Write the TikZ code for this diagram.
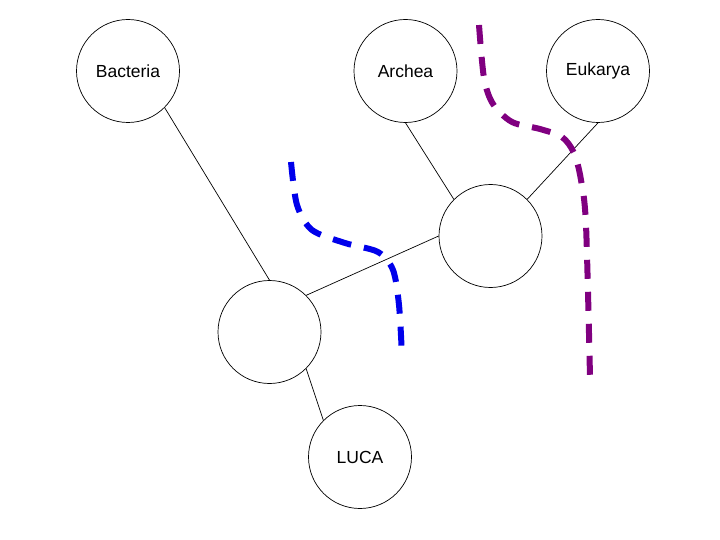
\documentclass[tikz,border=0pt]{standalone}
\usepackage{fontspec}
\setmainfont{Liberation Sans}
\definecolor{cutblue}{RGB}{0,0,235}
\definecolor{cutpurple}{RGB}{128,0,128}
\begin{document}
\begin{tikzpicture}[x=1pt,y=-1pt,
  taxon/.style={draw,circle,line width=0.7pt,minimum size=103pt,inner sep=0pt,font=\fontsize{17.5}{20}\selectfont},
  branch/.style={line width=0.7pt},
  cut/.style={line width=6pt,dash pattern=on 19pt off 13pt}]
\useasboundingbox (0,0) rectangle (720,540);
\node[taxon] (bac) at (128,71) {Bacteria};
\node[taxon] (arc) at (405.5,71) {Archea};
\node[taxon] (euk) at (598,71) {Eukarya};
\node[taxon] (ae) at (490.5,236) {};
\node[taxon] (root) at (269.5,332) {};
\node[taxon] (luca) at (360,457) {LUCA};
\draw[branch] (bac.-45) -- (root.north);
\draw[branch] (root.45) -- (ae.west);
\draw[branch] (arc.south) -- (ae.135);
\draw[branch] (euk.south) -- (ae.45);
\draw[branch] (root.-45) -- (luca.135);
\draw[cut,cutblue] plot[smooth] coordinates {(291,162) (297,205) (312,230) (345,243) (378,252) (393,270) (399,305) (402,356)};
\draw[cut,cutpurple] plot[smooth] coordinates {(479,25) (484,78) (493,104) (512,122) (540,129) (562,137) (574,153) (581,180) (586,225) (590,377)};
\end{tikzpicture}
\end{document}
